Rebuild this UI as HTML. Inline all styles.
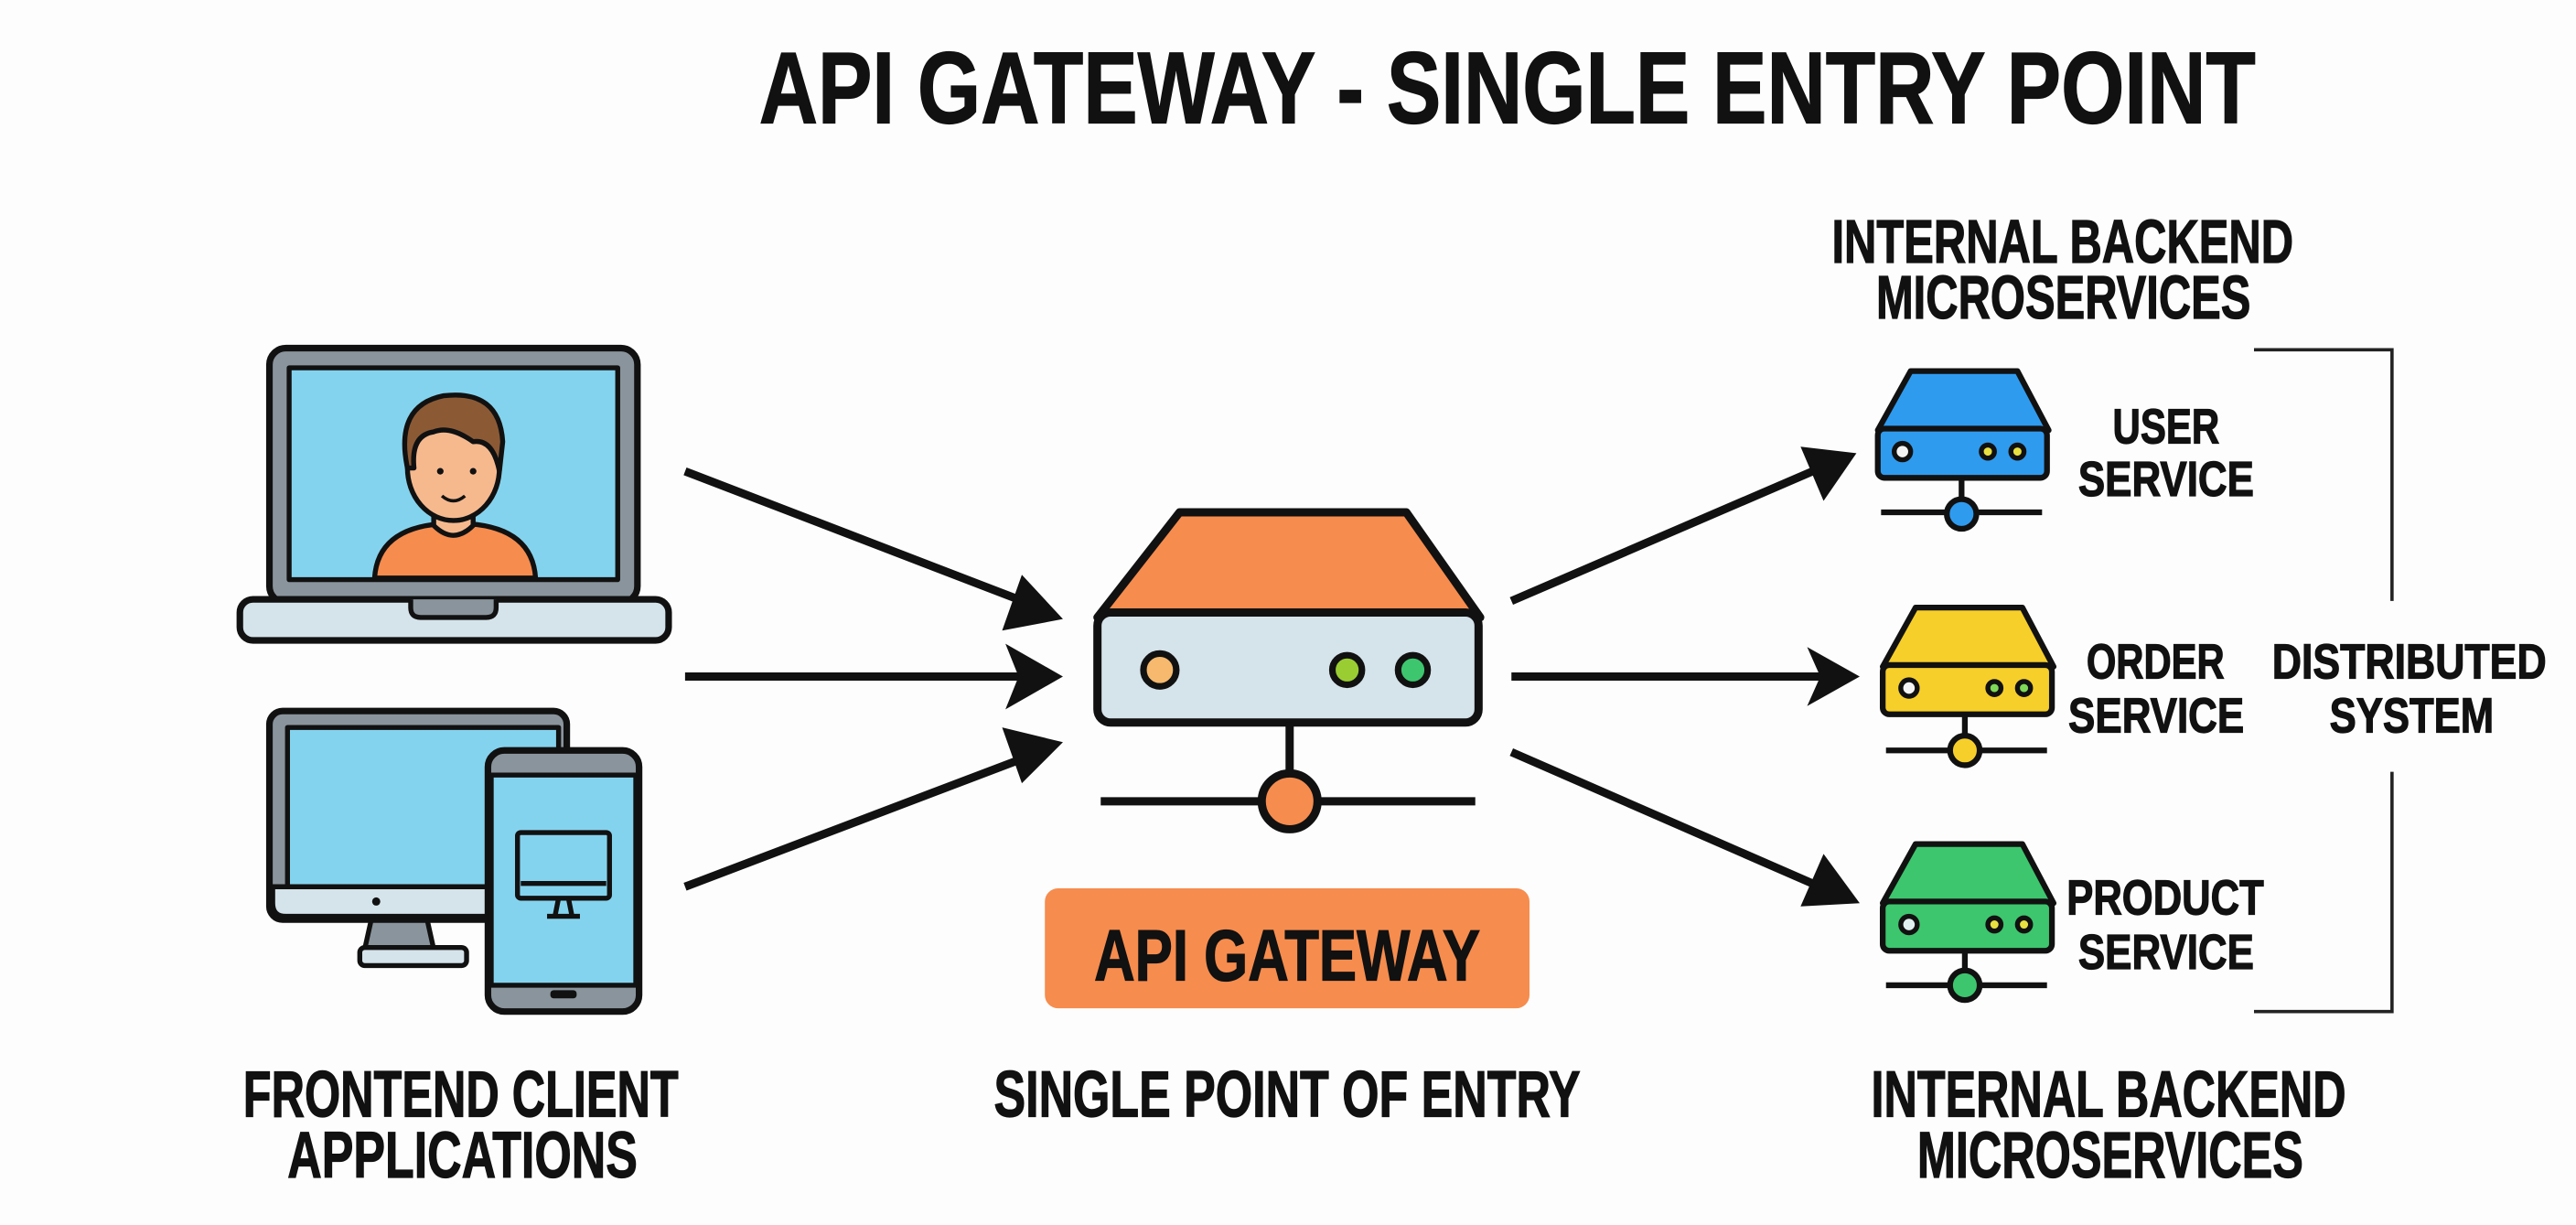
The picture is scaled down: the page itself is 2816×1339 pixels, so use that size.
<!DOCTYPE html>
<html><head><meta charset="utf-8"><style>
html,body{margin:0;padding:0;background:#fdfdfd;}
svg{display:block}
text{font-family:"Liberation Sans",sans-serif;font-weight:bold;fill:#111;stroke:#111;stroke-width:0.7;}
</style></head><body>
<svg width="2816" height="1339" viewBox="0 0 1568 746" preserveAspectRatio="none" xmlns="http://www.w3.org/2000/svg">
<rect width="1568" height="746" fill="#fdfdfd"/>
<!-- title -->
<text x="462" y="75" font-size="62" textLength="911" lengthAdjust="spacingAndGlyphs">API GATEWAY - SINGLE ENTRY POINT</text>

<!-- laptop -->
<g stroke="#111" stroke-width="4" stroke-linejoin="round">
<rect x="164" y="212" width="224" height="155" rx="10" fill="#8a949c"/>
<rect x="176" y="224" width="200" height="129" fill="#84D3EE" stroke-width="3"/>
<rect x="146" y="365" width="261" height="25" rx="8" fill="#D5E3EA"/>
<path d="M250 365 v5 q0 6 6 6 h40 q6 0 6 -6 v-5" fill="#8a949c" stroke-width="3"/>
<path d="M228 352 q2 -30 40 -33 h18 q38 3 40 33 z" fill="#F68C4E" stroke-width="3"/>
<path d="M264 306 v14 q12 12 24 0 v-14 z" fill="#F6B98E" stroke-width="3"/>
<ellipse cx="276" cy="285" rx="28" ry="32" fill="#F6B98E" stroke-width="3"/>
<path d="M248 285 q-8 -38 22 -44 q34 -4 36 28 l-2 18 q-4 -20 -16 -18 q-14 -10 -24 -6 q-14 2 -12 22 z" fill="#8B5A35" stroke-width="3"/>
</g>
<circle cx="268" cy="287" r="2" fill="#111"/><circle cx="288" cy="287" r="2" fill="#111"/>
<path d="M269 302 q7 6 14 0" stroke="#111" stroke-width="2" fill="none"/>

<!-- monitor -->
<g stroke="#111" stroke-width="4" stroke-linejoin="round">
<path d="M226 560 l-4 18 h42 l-4 -18 z" fill="#8a949c" stroke-width="3"/>
<rect x="219" y="577" width="65" height="11" rx="3" fill="#D5E3EA" stroke-width="3"/>
<rect x="164" y="433" width="181" height="127" rx="8" fill="#8a949c"/>
<rect x="175" y="443" width="165" height="97" fill="#84D3EE" stroke-width="3"/>
<path d="M166 540 h177 v10 q0 8 -8 8 h-161 q-8 0 -8 -8 z" fill="#D5E3EA" stroke-width="3"/>
<rect x="297" y="457" width="92" height="159" rx="10" fill="#8a949c"/>
<rect x="299" y="472" width="88" height="128" fill="#84D3EE" stroke-width="3"/>
<rect x="315" y="507" width="56" height="40" rx="2" fill="#84D3EE" stroke-width="3"/>
<path d="M317 538 h52" stroke-width="3"/>
<path d="M340 547 l-2 10 M346 547 l2 10 M333 558 h20" stroke-width="3"/>
</g>
<circle cx="229" cy="549" r="2.5" fill="#111"/>
<rect x="335" y="603" width="16" height="5" rx="2" fill="#111"/>

<!-- arrows -->
<g stroke="#111" stroke-width="5" fill="#111">
<line x1="417" y1="287" x2="625" y2="367"/>
<line x1="417" y1="412" x2="625" y2="412"/>
<line x1="417" y1="540" x2="625" y2="461"/>
<line x1="920" y1="366" x2="1108" y2="285"/>
<line x1="920" y1="412" x2="1110" y2="412"/>
<line x1="920" y1="458" x2="1110" y2="541"/>
</g>
<g fill="#111">
<polygon points="647,377 610,384 622,350"/>
<polygon points="647,412 612,432 620,412 612,392"/>
<polygon points="647,452 622,477 610,443"/>
<polygon points="1130,276 1110,305 1096,272"/>
<polygon points="1132,412 1100,430 1108,412 1100,394"/>
<polygon points="1132,550 1096,552 1110,520"/>
</g>

<!-- gateway server -->
<g stroke="#111" stroke-width="5" stroke-linejoin="round">
<path d="M718 312 h138 l45 64 h-233 z" fill="#F68C4E"/>
<rect x="668" y="373" width="232" height="67" rx="8" fill="#D5E3EA"/>
<line x1="785" y1="440" x2="785" y2="472"/>
<line x1="670" y1="488" x2="898" y2="488"/>
<circle cx="785" cy="488" r="17" fill="#F68C4E"/>
<circle cx="706" cy="408" r="10" fill="#F6B96E" stroke-width="4"/>
<circle cx="820" cy="408" r="9" fill="#9ACD32" stroke-width="4"/>
<circle cx="860" cy="408" r="9" fill="#3DC66E" stroke-width="4"/>
</g>
<rect x="636" y="541" width="295" height="73" rx="8" fill="#F68C4E"/>
<text x="666" y="597" font-size="44" textLength="235" lengthAdjust="spacingAndGlyphs">API GATEWAY</text>
<text x="605" y="680" font-size="40" textLength="357" lengthAdjust="spacingAndGlyphs">SINGLE POINT OF ENTRY</text>
<text x="148" y="680" font-size="40" textLength="265" lengthAdjust="spacingAndGlyphs">FRONTEND CLIENT</text>
<text x="175" y="717" font-size="40" textLength="213" lengthAdjust="spacingAndGlyphs">APPLICATIONS</text>
<text x="1139" y="680" font-size="40" textLength="289" lengthAdjust="spacingAndGlyphs">INTERNAL BACKEND</text>
<text x="1167" y="717" font-size="40" textLength="235" lengthAdjust="spacingAndGlyphs">MICROSERVICES</text>
<text x="1115" y="160" font-size="37" textLength="281" lengthAdjust="spacingAndGlyphs">INTERNAL BACKEND</text>
<text x="1142" y="194" font-size="37" textLength="228" lengthAdjust="spacingAndGlyphs">MICROSERVICES</text>

<!-- services -->
<g stroke="#111" stroke-width="3.5" stroke-linejoin="round">
<path d="M1163 226 h65 l19 36 h-104 z" fill="#2F9BEF"/>
<rect x="1143" y="261" width="103" height="30" rx="4" fill="#2F9BEF"/>
<line x1="1194" y1="291" x2="1194" y2="305"/><line x1="1145" y1="312" x2="1243" y2="312"/>
<circle cx="1194" cy="313" r="9" fill="#2F9BEF"/>
<circle cx="1158" cy="275" r="5" fill="#f4f4f4" stroke-width="3"/><circle cx="1210" cy="275" r="4" fill="#E8E040" stroke-width="3"/><circle cx="1228" cy="275" r="4" fill="#E8E040" stroke-width="3"/>

<path d="M1166 370 h65 l19 36 h-104 z" fill="#F7CF2A"/>
<rect x="1146" y="405" width="103" height="30" rx="4" fill="#F7CF2A"/>
<line x1="1196" y1="435" x2="1196" y2="450"/><line x1="1148" y1="457" x2="1246" y2="457"/>
<circle cx="1196" cy="457" r="9" fill="#F7CF2A"/>
<circle cx="1162" cy="419" r="5" fill="#f4f4f4" stroke-width="3"/><circle cx="1214" cy="419" r="4" fill="#7ED957" stroke-width="3"/><circle cx="1232" cy="419" r="4" fill="#7ED957" stroke-width="3"/>

<path d="M1166 514 h65 l19 36 h-104 z" fill="#3DC66E"/>
<rect x="1146" y="549" width="103" height="30" rx="4" fill="#3DC66E"/>
<line x1="1196" y1="579" x2="1196" y2="594"/><line x1="1148" y1="600" x2="1246" y2="600"/>
<circle cx="1196" cy="600" r="9" fill="#3DC66E"/>
<circle cx="1162" cy="563" r="5" fill="#e0f0f0" stroke-width="3"/><circle cx="1214" cy="563" r="4" fill="#E8E040" stroke-width="3"/><circle cx="1232" cy="563" r="4" fill="#E8E040" stroke-width="3"/>
</g>
<text x="1286" y="270" font-size="30" textLength="65" lengthAdjust="spacingAndGlyphs">USER</text>
<text x="1265" y="302" font-size="30" textLength="107" lengthAdjust="spacingAndGlyphs">SERVICE</text>
<text x="1270" y="413" font-size="30" textLength="84" lengthAdjust="spacingAndGlyphs">ORDER</text>
<text x="1259" y="446" font-size="30" textLength="107" lengthAdjust="spacingAndGlyphs">SERVICE</text>
<text x="1258" y="557" font-size="30" textLength="120" lengthAdjust="spacingAndGlyphs">PRODUCT</text>
<text x="1265" y="590" font-size="30" textLength="107" lengthAdjust="spacingAndGlyphs">SERVICE</text>
<text x="1383" y="413" font-size="30" textLength="167" lengthAdjust="spacingAndGlyphs">DISTRIBUTED</text>
<text x="1418" y="446" font-size="30" textLength="100" lengthAdjust="spacingAndGlyphs">SYSTEM</text>

<path d="M1372 213 H1456 V366 M1456 470 V616 H1372" fill="none" stroke="#222" stroke-width="2"/>
</svg>
</body></html>
